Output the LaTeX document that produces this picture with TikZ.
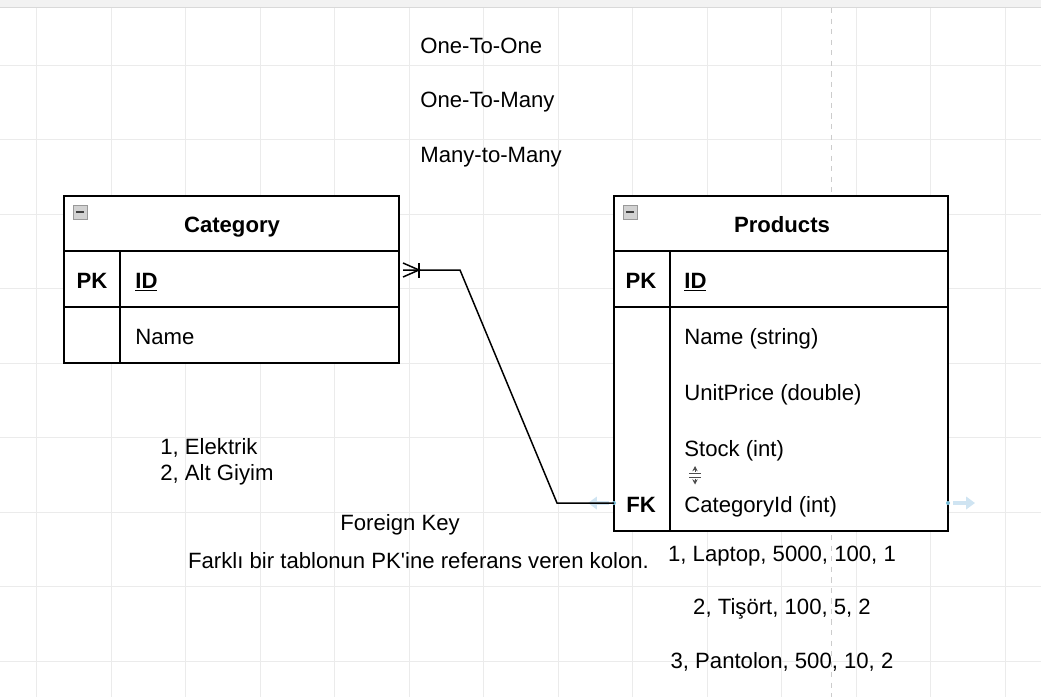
\documentclass[tikz,border=0pt]{standalone}
\usepackage{fontspec}
\setmainfont{Liberation Sans}
\usetikzlibrary{calc,arrows.meta}

\definecolor{gridgray}{HTML}{EBEBEB}
\definecolor{hoverblue}{HTML}{CFE4F2}

\tikzset{
  tline/.style={line width=0.85pt, black},
  txt/.style={inner sep=0pt, text height=0.72em, text depth=0pt, yshift=-1.1pt, font=\fontsize{12.6}{15}\selectfont},
  ltxt/.style={txt, anchor=west},
  btxt/.style={txt, font=\fontsize{12.6}{15}\selectfont\bfseries},
  minusbox/.style={draw=gray!80, fill=gray!35, line width=0.5pt},
}

\begin{document}
\begin{tikzpicture}[x=0.02cm, y=-0.02cm]
        \useasboundingbox (0,0) rectangle (1041,697);
        % grid
        \foreach \x in {36.5,111,185.5,260,334.5,409,483.5,558,632.5,707,781.5,856,930.5,1005} \draw[gridgray, line width=0.4pt] (\x,8) -- (\x,697);
        \foreach \y in {65,139.5,214,288.5,363,437.5,512,586.5,661} \draw[gridgray, line width=0.4pt] (0,\y) -- (1041,\y);
        \draw[gray!40, dashed, line width=0.4pt] (831,8) -- (831,697);
        \fill[gray!10] (0,0) rectangle (1041,7);
        \draw[gray!30, line width=0.6pt] (0,7.5) -- (1041,7.5);

        % relationship types
        \node[ltxt] (onetoone) at (420,45) {One-To-One};
        \node[ltxt] (onetomany) at (420,99) {One-To-Many};
        \node[ltxt] (manytomany) at (420,154) {Many-to-Many};

        % Category table
        \draw[tline, fill=white] (64,196) rectangle (399,363);
        \draw[tline] (64,251) -- (399,251);
        \draw[tline] (64,307) -- (399,307);
        \draw[tline] (120,251) -- (120,363);
        \draw[minusbox] (73,205) rectangle (87,219);
        \draw[black!75, line width=1.2pt] (76,212) -- (84,212);
        \node[btxt] (cattitle) at (232,224) {Category};
        \node[btxt] (catpk) at (92,280) {PK};
        \node[btxt, anchor=west] (catid) at (135,280) {\underline{ID}};
        \node[ltxt] (catname) at (135,336) {Name};

        % Products table
        \draw[tline, fill=white] (614,196) rectangle (948,531);
        \draw[tline] (614,251) -- (948,251);
        \draw[tline] (614,307) -- (948,307);
        \draw[tline] (670,251) -- (670,531);
        \draw[minusbox] (623,205) rectangle (637,219);
        \draw[black!75, line width=1.2pt] (626,212) -- (634,212);
        \node[btxt] (prodtitle) at (782,224) {Products};
        \node[btxt] (prodpk) at (641,280) {PK};
        \node[btxt, anchor=west] (prodid) at (684,280) {\underline{ID}};
        \node[ltxt] (prodname) at (684,336) {Name (string)};
        \node[ltxt] (prodprice) at (684,392) {UnitPrice (double)};
        \node[ltxt] (prodstock) at (684,448) {Stock (int)};
        \node[btxt] (prodfk) at (641,504) {FK};
        \node[ltxt] (prodcat) at (684,504) {CategoryId (int)};

        % resize handle
        \draw[black!70, line width=0.5pt, -{Stealth[length=3pt, width=3pt]}] (695,472) -- (695,466);
        \draw[black!70, line width=0.5pt] (689,473.5) -- (701,473.5) (689,477) -- (701,477);
        \draw[black!70, line width=0.5pt, -{Stealth[length=3pt, width=3pt]}] (695,478.5) -- (695,484.5);

        % hover arrows
        \coordinate (catend) at (403,270);
        \coordinate (fkend) at (614,503);
        \draw[hoverblue, line width=2pt, -{Triangle[length=5pt, width=7pt]}] (609,503) -- (588,503);
        \draw[hoverblue, line width=2pt, -{Triangle[length=5pt, width=7pt]}] (953,503) -- (975,503);
        \fill[cyan!50!teal!60] (fkend) circle (2);
        \fill[cyan!50!teal!60] (948,503) circle (2);

        % relation Category 1 -- n Products
        \draw[tline] (catend) -- ++(57,0) -- ($(fkend)+(-57,0)$) -- (fkend);
        \draw[tline] (403,263) -- (419,270) -- (403,277);
        \draw[tline] (419,263) -- (419,278);

        % notes
        \node[ltxt] (row1) at (160,446) {1, Elektrik};
        \node[ltxt] (row2) at (160,472) {2, Alt Giyim};
        \node[txt] (fktitle) at (400,522) {Foreign Key};
        \node[txt] (fkdesc) at (418.5,560) {Farklı bir tablonun PK\textquotesingle ine referans veren kolon.};
        \node[txt] (prow1) at (782,553) {1, Laptop, 5000, 100, 1};
        \node[txt] (prow2) at (782,606) {2, Tişört, 100, 5, 2};
        \node[txt] (prow3) at (782,660) {3, Pantolon, 500, 10, 2};
    \end{tikzpicture}
\end{document}
